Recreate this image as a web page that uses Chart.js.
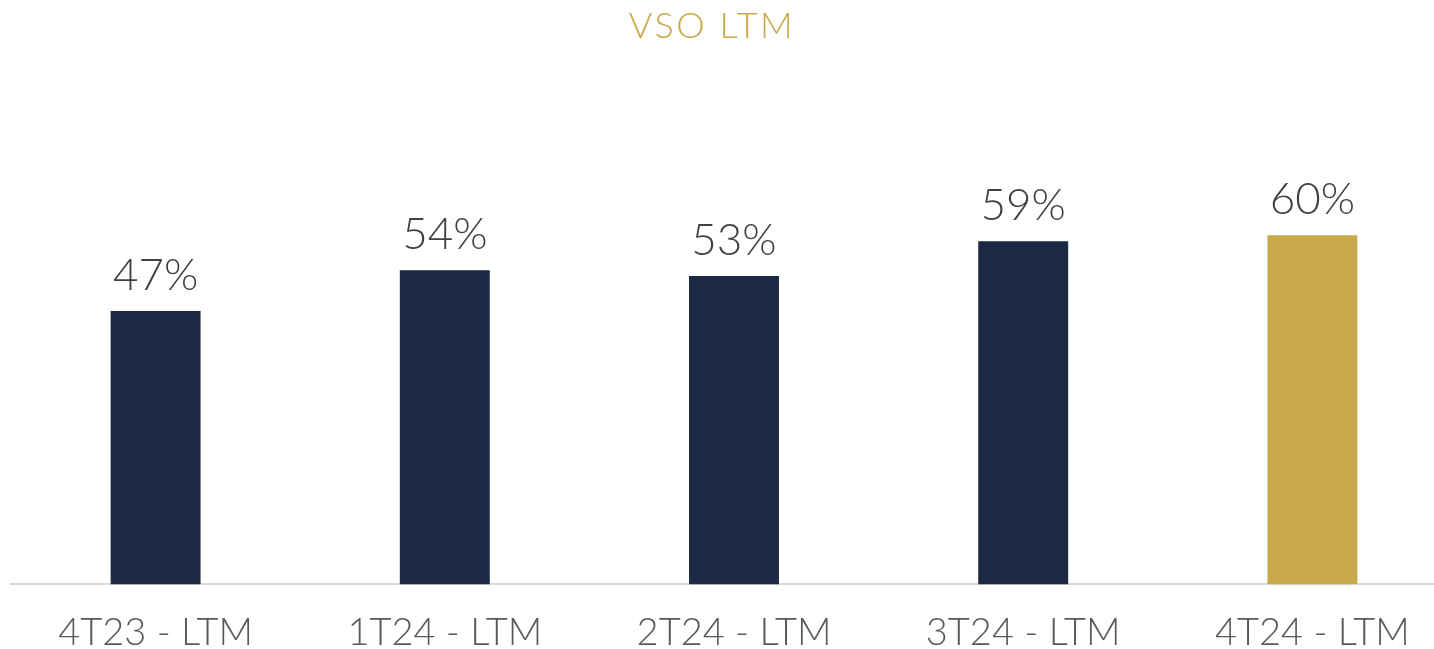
<!DOCTYPE html>
<html><head><meta charset="utf-8">
<script src="https://cdn.jsdelivr.net/npm/chart.js@4"></script>
<style>html,body{margin:0;padding:0;overflow:hidden;background:#fff;width:1434px;height:649px}
#wrap{position:absolute;left:0;top:0;width:1457px;height:649px}</style>
</head><body>
<div id="wrap"><canvas id="c" width="1457" height="649"></canvas></div>
<script>
const categories = ["4T23 - LTM","1T24 - LTM","2T24 - LTM","3T24 - LTM","4T24 - LTM"];
const vsoValues = [47, 54, 53, 59, 60];
const barColors = ["#1B2944","#1B2944","#1B2944","#1B2944","#C8A84A"];
const chartTitle = "VSO LTM";

const FONT = "Lato, 'Open Sans', sans-serif";

const textLayer = {
  id: 'textLayer',
  afterDatasetsDraw(chart) {
    const ctx = chart.ctx;
    const meta = chart.getDatasetMeta(0);
    ctx.save();
    ctx.font = "300 44px " + FONT;
    ctx.fillStyle = "#404040";
    ctx.textAlign = "center";
    ctx.textBaseline = "alphabetic";
    meta.data.forEach((bar, i) => {
      ctx.fillText(vsoValues[i] + "%", bar.x, bar.y - 21);
    });
    ctx.font = "300 36px " + FONT;
    ctx.fillStyle = "#C8A84A";
    if ('letterSpacing' in ctx) ctx.letterSpacing = "2.5px";
    ctx.fillText(chartTitle, 712, 38);
    ctx.restore();
  }
};

new Chart(document.getElementById('c'), {
  type: 'bar',
  data: {
    labels: categories,
    datasets: [{
      data: vsoValues,
      backgroundColor: barColors,
      barPercentage: 0.311,
      categoryPercentage: 1.0
    }]
  },
  options: {
    responsive: false,
    animation: false,
    layout: { padding: { left: 11, right: 0, top: 119, bottom: -33 } },
    plugins: {
      legend: { display: false },
      tooltip: { enabled: false },
      title: { display: false }
    },
    scales: {
      x: {
        grid: { display: false, drawTicks: false },
        border: { display: true, color: "#D9D9D9", width: 2 },
        ticks: { color: "#595959", font: { family: FONT, size: 38, weight: 300 }, padding: 26, maxRotation: 0 }
      },
      y: {
        display: false,
        min: 0,
        max: 80
      }
    }
  },
  plugins: [textLayer]
});
</script>
</body></html>
